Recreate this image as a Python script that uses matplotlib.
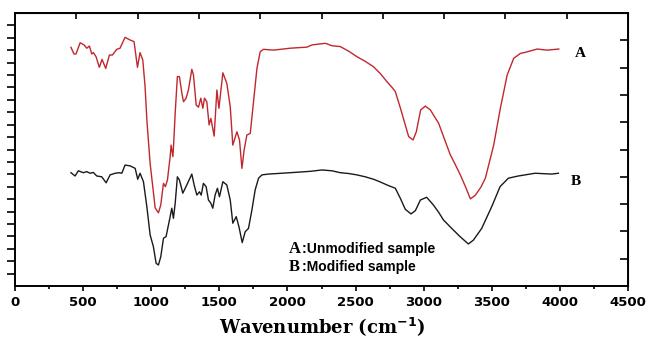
import matplotlib
matplotlib.use("Agg")
from matplotlib import pyplot as plt
import numpy as np

# FTIR spectra (wavenumber cm-1, transmittance a.u.)
wn_a = [411, 433, 448, 478, 507, 527, 546, 564, 575, 595, 619, 639, 666, 693, 715,
        747, 771, 808, 845, 874, 899, 918, 938, 955, 968, 992, 1029, 1053, 1070, 1090,
        1104, 1119, 1139, 1146, 1159, 1163, 1176, 1192, 1207, 1225, 1237, 1256, 1273,
        1298, 1310, 1330, 1347, 1364, 1379, 1391, 1408, 1425, 1438, 1462, 1482, 1497,
        1526, 1555, 1580, 1599, 1629, 1648, 1666, 1682, 1702, 1727, 1751, 1776, 1800,
        1824, 1898, 2020, 2143, 2180, 2278, 2327, 2388, 2450, 2510, 2571, 2632, 2682,
        2731, 2770, 2792, 2829, 2865, 2890, 2922, 2946, 2978, 3012, 3049, 3110, 3160,
        3196, 3235, 3269, 3310, 3343, 3380, 3420, 3453, 3514, 3563, 3613, 3661, 3710,
        3747, 3833, 3906, 3992]
t_a = [87.4, 85.0, 85.0, 89.1, 88.3, 87.1, 87.9, 85.0, 85.5, 84.0, 80.1, 83.0, 79.7,
       84.6, 84.6, 86.7, 87.1, 91.1, 90.1, 89.5, 80.1, 85.5, 82.8, 73.0, 60.8, 44.9,
       28.6, 26.8, 29.7, 37.6, 36.4, 38.8, 47.4, 51.6, 47.4, 50.4, 63.4, 76.7, 76.7,
       70.6, 67.5, 68.8, 71.8, 79.4, 77.3, 66.3, 65.5, 68.8, 65.1, 68.8, 67.5, 59.0,
       61.4, 54.9, 71.8, 65.1, 78.1, 74.2, 65.7, 51.6, 56.5, 53.5, 43.1, 49.8, 55.3,
       55.9, 67.5, 79.7, 85.8, 86.7, 86.4, 87.1, 87.5, 88.3, 88.9, 88.0, 87.7, 86.0,
       84.0, 82.3, 80.3, 77.8, 74.8, 72.6, 71.2, 65.2, 59.0, 54.7, 53.5, 56.5, 64.5,
       65.9, 64.5, 59.6, 52.8, 48.0, 44.2, 40.7, 36.0, 31.9, 33.3, 36.2, 39.5, 51.6,
       65.1, 77.3, 83.4, 85.2, 85.6, 86.8, 86.4, 86.8]

wn_b = [411, 441, 465, 502, 527, 551, 575, 600, 637, 669, 698, 735, 766, 784, 808,
        845, 882, 901, 918, 943, 968, 992, 1016, 1036, 1053, 1070, 1090, 1109, 1134,
        1151, 1163, 1176, 1192, 1207, 1232, 1261, 1298, 1315, 1335, 1354, 1367, 1383,
        1403, 1420, 1438, 1452, 1469, 1486, 1501, 1526, 1555, 1580, 1599, 1624, 1644,
        1668, 1690, 1714, 1739, 1763, 1788, 1813, 1861, 2020, 2167, 2253, 2327, 2388,
        2450, 2510, 2571, 2632, 2682, 2731, 2792, 2829, 2865, 2907, 2939, 2976, 3022,
        3071, 3110, 3145, 3206, 3267, 3328, 3365, 3426, 3499, 3561, 3622, 3695, 3818,
        3940, 3989]
t_b = [41.5, 40.3, 42.2, 41.5, 41.9, 41.3, 41.6, 40.3, 40.0, 37.8, 40.7, 41.3, 41.5,
       41.3, 44.3, 44.0, 43.1, 39.1, 41.3, 38.2, 29.0, 18.7, 14.4, 8.3, 7.7, 10.7,
       17.5, 18.1, 24.2, 28.5, 24.8, 30.3, 40.0, 38.8, 34.0, 37.0, 41.0, 37.0, 33.3,
       34.5, 33.3, 37.6, 36.4, 31.5, 30.3, 28.5, 33.3, 35.8, 32.7, 38.2, 37.0, 31.5,
       23.0, 25.4, 21.7, 15.9, 19.9, 21.1, 27.8, 35.2, 39.5, 40.7, 41.0, 41.5, 42.0,
       42.5, 42.2, 41.5, 41.2, 40.7, 40.0, 39.1, 38.1, 37.0, 35.8, 32.1, 28.1, 26.4,
       27.6, 31.5, 32.5, 29.7, 27.0, 24.2, 21.1, 18.1, 15.4, 16.8, 21.1, 29.0, 36.4,
       39.5, 40.3, 41.3, 41.0, 41.3]

fig = plt.figure(figsize=(6.48, 3.37), dpi=100)
ax = fig.add_axes([15 / 648, 1 - 286 / 337, 613 / 648, 273 / 337])

ax.plot(wn_a, t_a, color='#c0282d', lw=1.0)
ax.plot(wn_b, t_b, color='#1a1a1a', lw=1.0)

ax.set_xlim(0, 4500)
ax.set_ylim(0, 100)

for s in ax.spines.values():
    s.set_linewidth(1.4)

# bottom axis
ax.set_xticks(np.arange(0, 4501, 500))
ax.set_xticks(np.arange(250, 4500, 500), minor=True)
ax.tick_params(axis='x', which='major', direction='out', length=3.5, width=1.2, pad=4)
ax.tick_params(axis='x', which='minor', direction='out', length=2.2, width=1.2)
for lab in ax.get_xticklabels():
    lab.set_fontweight('bold')
    lab.set_fontsize(9.5)
    lab.set_family('DejaVu Sans')

# left axis: outward ticks, no labels
ax.set_yticks(np.arange(1, 22) * 100 / 22)
ax.tick_params(axis='y', which='major', direction='out', length=6, width=1.2,
               labelleft=False)

# top and right axes with their own ticks
top = ax.secondary_xaxis('top')
top.set_xticks(np.arange(1, 10) * 450)
top.tick_params(direction='in', length=4, width=1.2, labeltop=False)
right = ax.secondary_yaxis('right')
right.set_yticks(np.arange(1, 10) * 10)
right.tick_params(direction='in', length=6, width=1.2, labelright=False)

ax.text(4151, 85.0, 'A', family='Liberation Serif', fontweight='bold',
        fontsize=11, ha='center', va='center')
ax.text(4114, 38.1, 'B', family='Liberation Serif', fontweight='bold',
        fontsize=11, ha='center', va='center')

ax.text(2013, 13.6, 'A', family='Liberation Serif', fontweight='bold',
        fontsize=12, ha='left', va='center')
ax.text(2105, 13.6, ':Unmodified sample', family='Liberation Sans', fontweight='bold',
        fontsize=10, ha='left', va='center')
ax.text(2013, 7.0, 'B', family='Liberation Serif', fontweight='bold',
        fontsize=12, ha='left', va='center')
ax.text(2105, 7.0, ':Modified sample', family='Liberation Sans', fontweight='bold',
        fontsize=10, ha='left', va='center')

fig.text(322 / 648, 1 - 327 / 337, 'Wavenumber (cm$^{\\mathbf{-1}}$)',
         family='DejaVu Serif', fontweight='bold', fontsize=13,
         ha='center', va='center')

fig.savefig('out.png', dpi=100)
